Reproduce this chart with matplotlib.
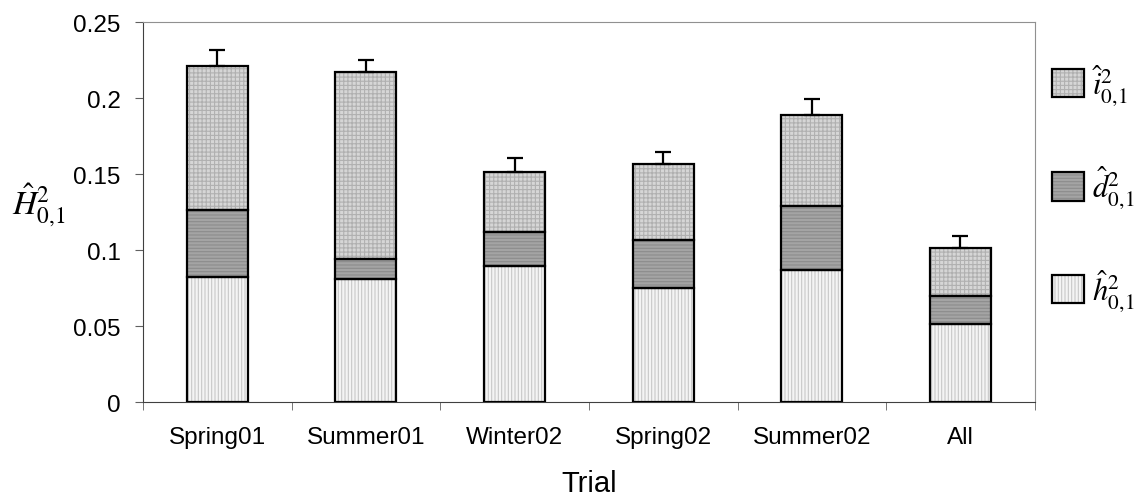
import numpy as np
import matplotlib.pyplot as plt
from matplotlib.patches import Patch

plt.rcParams['font.family'] = ['Liberation Sans', 'DejaVu Sans']
plt.rcParams['mathtext.fontset'] = 'stix'
plt.rcParams['hatch.linewidth'] = 0.8

# data
trials = ['Spring01', 'Summer01', 'Winter02', 'Spring02', 'Summer02', 'All']
h_vals = [0.082, 0.081, 0.0897, 0.075, 0.087, 0.0513]
d_vals = [0.0445, 0.013, 0.0223, 0.0318, 0.042, 0.0186]
i_vals = [0.0948, 0.1233, 0.0395, 0.05, 0.060, 0.0314]
err_up = [0.0105, 0.0077, 0.0092, 0.0078, 0.0105, 0.0081]

# fill colour, hatch colour, hatch pattern for h, d, i
styles = [('#f4f4f4', '#c8c8c8', '|||||'),
          ('#a4a4a4', '#8c8c8c', '-----'),
          ('#d6d6d6', '#b0b0b0', '++++')]

fig = plt.figure(figsize=(11.39, 5.02), dpi=100)
ax = fig.add_axes([0.1255, 0.197, 0.783, 0.757])

x = np.arange(len(trials))
w = 0.41
h = np.array(h_vals)
d = np.array(d_vals)
i = np.array(i_vals)
bottoms = [np.zeros(len(x)), h, h + d]

for vals, bot, (fc, hc, hp) in zip([h, d, i], bottoms, styles):
    ax.bar(x, vals, w, bottom=bot, color=fc, edgecolor=hc, hatch=hp, lw=0, zorder=2)
    ax.bar(x, vals, w, bottom=bot, fill=False, edgecolor='black', lw=1.6, zorder=3)

ax.errorbar(x, h + d + i, yerr=[np.zeros(len(x)), err_up], fmt='none', ecolor='black',
            elinewidth=1.6, capsize=5.5, capthick=1.6, zorder=4)

ax.set_xlim(-0.5, len(trials) - 0.5)
ax.set_ylim(0, 0.25)
ax.set_yticks([0, 0.05, 0.1, 0.15, 0.2, 0.25])
ax.set_yticklabels(['0', '0.05', '0.1', '0.15', '0.2', '0.25'])
ax.set_xticks(x)
ax.set_xticklabels(trials)
ax.set_xticks(np.arange(-0.5, len(trials)), minor=True)
ax.tick_params(axis='x', which='major', length=0, labelsize=17.5, pad=17)
ax.tick_params(axis='x', which='minor', length=6, color='#606060', direction='out')
ax.tick_params(axis='y', length=6, color='#606060', labelsize=17.5, direction='out', pad=10)

for s in ['top', 'right']:
    ax.spines[s].set_color('#909090')
for s in ['left', 'bottom']:
    ax.spines[s].set_color('#404040')

ax.set_xlabel('Trial', fontsize=21, labelpad=15)
ax.set_ylabel(r'$\hat{H}^{2}_{0,\!1}$', fontsize=24, rotation=0, va='center', ha='center')
ax.yaxis.set_label_coords(-0.117, 0.52)

handles = []
for fc, hc, hp in styles[::-1]:
    handles.append((Patch(facecolor=fc, edgecolor=hc, hatch=hp, lw=0),
                    Patch(fill=False, edgecolor='black', lw=1.6)))
labels = [r'$\hat{i}^{2}_{0,\!1}$', r'$\hat{d}^{2}_{0,\!1}$', r'$\hat{h}^{2}_{0,\!1}$']
ax.legend(handles, labels, loc='center left', bbox_to_anchor=(1.006, 0.565), frameon=False,
          fontsize=22, handlelength=1.05, handleheight=1.05, labelspacing=1.85, handletextpad=0.25,
          borderpad=0.4, borderaxespad=0)

fig.savefig('out.png', dpi=100)
